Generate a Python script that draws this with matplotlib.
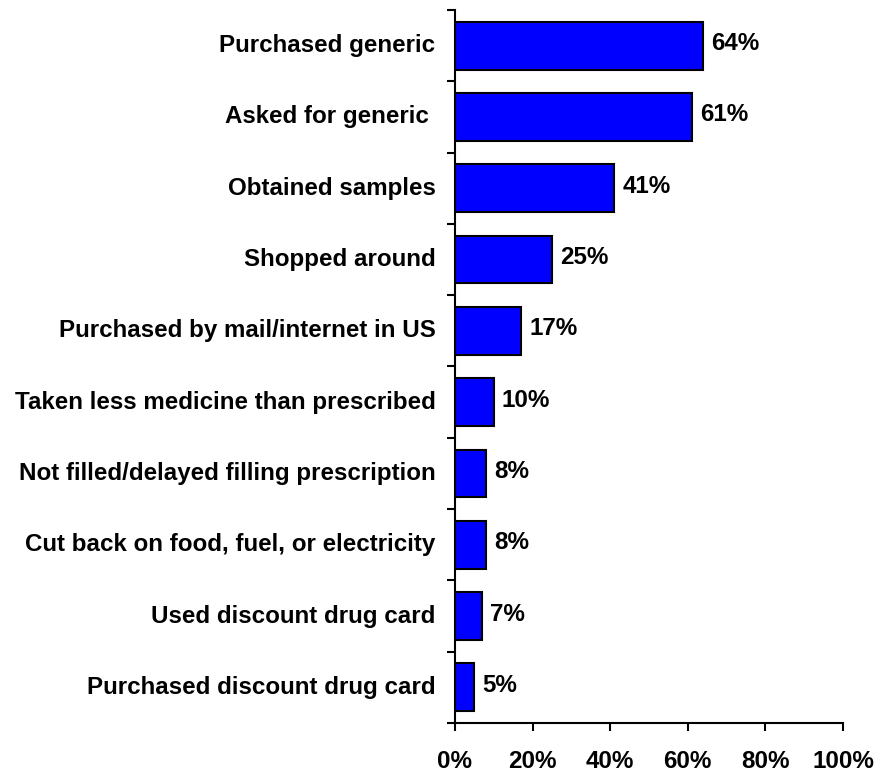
import matplotlib
matplotlib.use("Agg")
import matplotlib.pyplot as plt
from matplotlib.ticker import FixedLocator
from matplotlib.transforms import ScaledTranslation

categories = [
    "Purchased generic",
    "Asked for generic ",
    "Obtained samples",
    "Shopped around",
    "Purchased by mail/internet in US",
    "Taken less medicine than prescribed",
    "Not filled/delayed filling prescription",
    "Cut back on food, fuel, or electricity",
    "Used discount drug card",
    "Purchased discount drug card",
]
values = [64, 61, 41, 25, 17, 10, 8, 8, 7, 5]
xticks = [0, 20, 40, 60, 80, 100]
xticklabels = ["0%", "20%", "40%", "60%", "80%", "100%"]

plt.rcParams['font.family'] = ['Liberation Sans', 'DejaVu Sans']
plt.rcParams['font.weight'] = 'bold'
FS = 17.4

fig = plt.figure(figsize=(8.84, 7.72), dpi=100)
ax = fig.add_axes([455/884, 1-723/772, (843-455)/884, (723-10)/772])

n = len(categories)
ypos = list(range(n))
ax.barh(ypos, values, height=0.67, color="#0000FF", edgecolor="black", linewidth=1.5)

ax.set_ylim(n - 0.5, -0.5)
ax.set_xlim(0, 100)

up = ScaledTranslation(0, 2/100, fig.dpi_scale_trans)
for y, v in zip(ypos, values):
    ax.text(v + 2.1, y, f"{v}%", va="center", ha="left", fontsize=FS,
            fontweight="bold", transform=ax.transData + up)

ax.set_xticks(xticks)
ax.set_xticklabels(xticklabels, fontsize=FS, fontweight="bold")
ax.set_yticks(ypos)
ax.set_yticklabels(categories, fontsize=FS, fontweight="bold", va="center")
ax.yaxis.set_minor_locator(FixedLocator([i - 0.5 for i in range(n + 1)]))

ax.tick_params(axis='y', which='major', length=0, pad=14)
ax.tick_params(axis='y', which='minor', length=6, width=1.5, direction='out')
ax.tick_params(axis='x', which='major', length=6, width=1.5, direction='out', pad=13.5)

for s in ['top', 'right']:
    ax.spines[s].set_visible(False)
for s in ['left', 'bottom']:
    ax.spines[s].set_linewidth(1.5)

fig.savefig("out.png", dpi=100)
